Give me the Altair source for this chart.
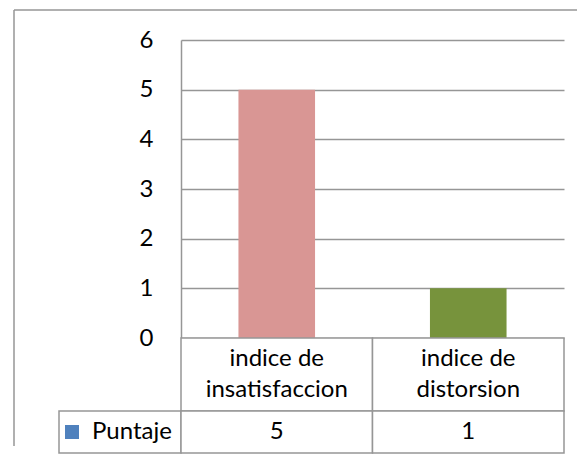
import altair as alt
import pandas as pd

# ---- data ----
categories = ["indice de insatisfaccion", "indice de distorsion"]
values = [5, 1]
series_name = "Puntaje"
bar_colors = ["#D99694", "#77933C"]
legend_color = "#4F81BD"
y_ticks = [0, 1, 2, 3, 4, 5, 6]

df = pd.DataFrame({
    "categoria": categories,
    "valor": values,
    "serie": [series_name] * len(categories),
    "etiqueta": [c.replace(" de ", " de\n") for c in categories],
})
frame_df = pd.DataFrame({"k": [0]})

GRID = "#969696"
FONT = "Lato"
FS = 24
W = 383

x_enc = alt.X("categoria:N", sort=categories, axis=None,
              scale=alt.Scale(paddingInner=0, paddingOuter=0))

bars = alt.Chart(df).mark_bar(width=alt.RelativeBandSize(0.4)).encode(
    x=x_enc,
    y=alt.Y("valor:Q", scale=alt.Scale(domain=[0, 6]),
            axis=alt.Axis(values=y_ticks, title=None, grid=True, gridColor=GRID,
                          gridWidth=1.5, domainColor=GRID, domainWidth=1.5,
                          ticks=False, labelPadding=28, labelFontSize=FS,
                          labelFont=FONT, labelColor="black")),
    color=alt.Color("categoria:N", sort=categories,
                    scale=alt.Scale(domain=categories, range=bar_colors), legend=None),
)

frame_top = alt.Chart(frame_df).mark_rule(color=GRID, strokeWidth=1.5).encode(
    x=alt.value(-167), x2=alt.value(396), y=alt.value(-30))
frame_left = alt.Chart(frame_df).mark_rule(color=GRID, strokeWidth=1.5).encode(
    x=alt.value(-167), y=alt.value(-30), y2=alt.value(406))

top = alt.layer(bars, frame_top, frame_left).properties(width=W, height=298)

row_labels = alt.layer(
    alt.Chart(df).mark_rect(fill="white", stroke=GRID, strokeWidth=1.5).encode(x=x_enc),
    alt.Chart(df).mark_text(font=FONT, fontSize=FS, lineBreak="\n", lineHeight=31,
                            baseline="middle", dy=-15.5, color="black").encode(
        x=x_enc, text="etiqueta:N"),
).properties(width=W, height=73)

header_cell = alt.Chart(frame_df).mark_rect(fill="white", stroke=GRID, strokeWidth=1.5).encode(
    x=alt.value(-122), x2=alt.value(0))

row_values = alt.layer(
    header_cell,
    alt.Chart(df).mark_rect(fill="white", stroke=GRID, strokeWidth=1.5).encode(x=x_enc),
    alt.Chart(df).mark_text(font=FONT, fontSize=FS, baseline="middle",
                            color="black").encode(x=x_enc, text="valor:Q"),
    alt.Chart(df).mark_square(opacity=0).encode(
        x=x_enc,
        color=alt.Color("serie:N", scale=alt.Scale(domain=[series_name], range=[legend_color]),
                        legend=alt.Legend(title=None, orient="left", offset=0, padding=9,
                                          symbolType="square", symbolSize=196,
                                          symbolStrokeWidth=0, symbolOpacity=1,
                                          labelFontSize=FS, labelFont=FONT,
                                          labelColor="black", labelOffset=8)),
    ),
).properties(width=W, height=42)

chart = alt.vconcat(top, row_labels, row_values, spacing=0, bounds="flush").resolve_scale(
    color="independent"
).properties(
    padding={"left": 5, "top": 1, "right": 0, "bottom": 0}
).configure_view(stroke=None)

chart.save("out.html", embed_options={"renderer": "svg", "actions": False})
